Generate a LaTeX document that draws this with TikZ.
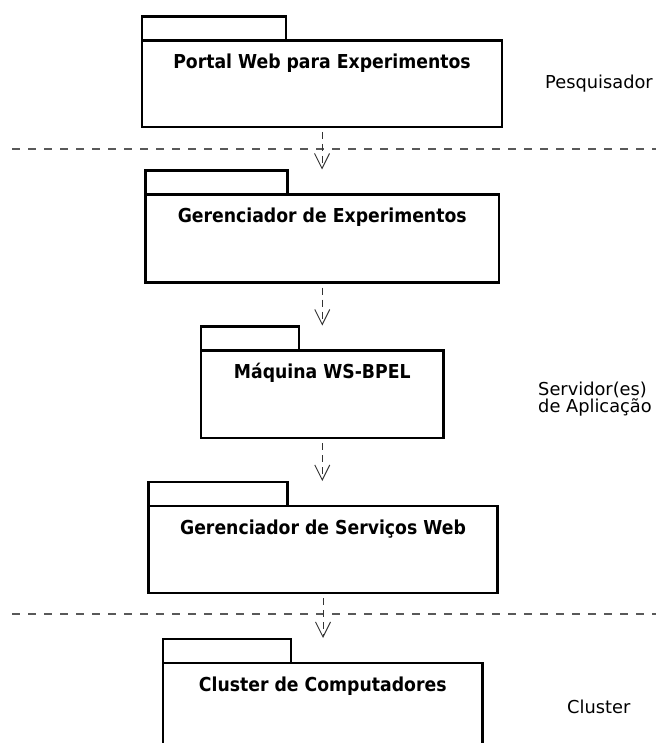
\documentclass[tikz,border=0pt]{standalone}
\usepackage{fontspec}
\setmainfont{DejaVu Sans}
\newfontfamily\pkgfont{DejaVu Sans Condensed}
\usepackage{tikz}
\usetikzlibrary{arrows.meta}
\tikzstyle{package} = [rectangle, draw=black, line width=2.2pt, inner sep=0pt, outer sep=0pt, anchor=north west, minimum height=0pt, text height=28pt, font=\pkgfont\bfseries\fontsize{19.2}{20}\selectfont]
\tikzstyle{tab} = [rectangle, draw=black, line width=2.2pt, inner sep=0pt, outer sep=0pt, anchor=south west, minimum height=24pt]
\tikzstyle{dep} = [line width=1pt, draw=black!80, dash pattern=on 7pt off 5pt, shorten <=5pt, shorten >=1pt, -{Straight Barb[length=15pt,width=15pt,line width=1pt]}]
\tikzstyle{separator} = [line width=1.6pt, draw=black!65, dash pattern=on 8pt off 8pt]
\tikzstyle{lane} = [anchor=west, align=left, inner sep=0pt, font=\fontsize{17.8}{17}\selectfont]

\begin{document}
\begin{tikzpicture}[x=1pt, y=-1pt]
    \useasboundingbox (0,0) rectangle (656,743);
    % packages
    \node (portal) [package, minimum width=360pt, text depth=58.5pt] at (142,40.5) {Portal Web para Experimentos};
    \node (portaltab) [tab, minimum width=144pt] at (portal.north west) {};
    \node (gerexp) [package, minimum width=353.5pt, text depth=60pt] at (145.5,194.5) {Gerenciador de Experimentos};
    \node (gerexptab) [tab, minimum width=142pt] at (gerexp.north west) {};
    \node (bpel) [package, minimum width=242.5pt, text depth=59.5pt] at (201,350.5) {Máquina WS-BPEL};
    \node (bpeltab) [tab, minimum width=98pt] at (bpel.north west) {};
    \node (gerws) [package, minimum width=349pt, text depth=59pt] at (148.5,506) {Gerenciador de Serviços Web};
    \node (gerwstab) [tab, minimum width=139pt] at (gerws.north west) {};
    \node (cluster) [package, minimum width=319.5pt, text depth=90pt] at (163,663) {Cluster de Computadores};
    \node (clustertab) [tab, minimum width=128pt] at (cluster.north west) {};
    % lanes
    \draw [separator] (12,149) -- (656,149);
    \draw [separator] (12,614) -- (656,614);
    \node (pesq) [lane] at (545,84) {Pesquisador};
    \node (serv) [lane] at (538,399) {Servidor(es)\\de Aplicação};
    \node (clus) [lane] at (567,707) {Cluster};
    % dependencies
    \draw [dep] (portal.south) -- (portal.south |- gerexptab.north);
    \draw [dep] (gerexp.south) -- (gerexp.south |- bpeltab.north);
    \draw [dep] (bpel.south) -- (bpel.south |- gerwstab.north);
    \draw [dep] (gerws.south) -- (gerws.south |- clustertab.north);
\end{tikzpicture}
\end{document}
